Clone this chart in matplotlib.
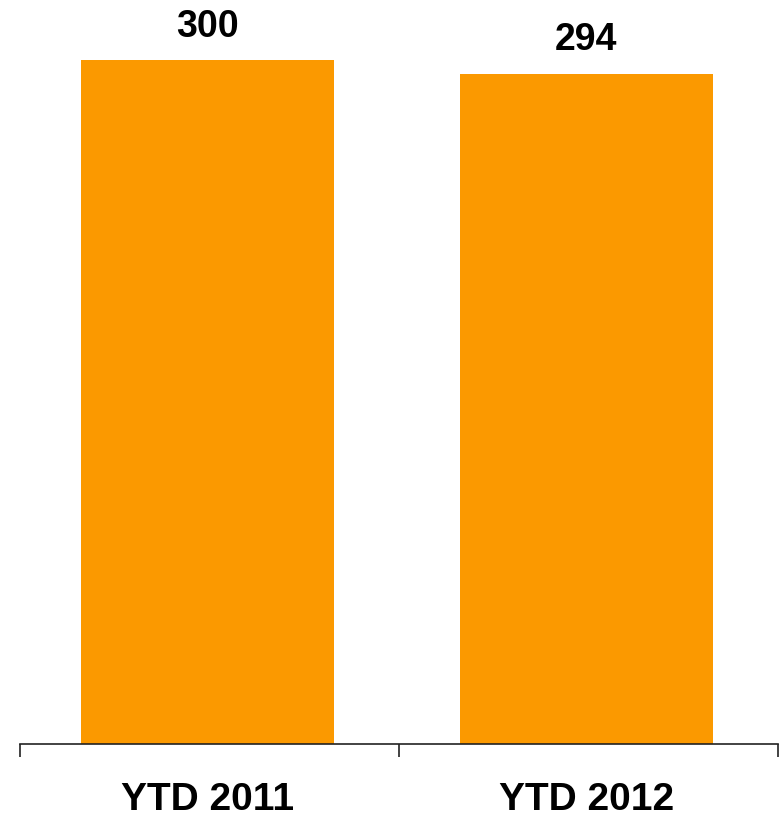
import matplotlib
matplotlib.use("Agg")
import matplotlib.pyplot as plt

categories = ["YTD 2011", "YTD 2012"]
values = [300, 294]
value_labels = ["300", "294"]

W, H = 779, 816
fig = plt.figure(figsize=(W / 100, H / 100), dpi=100)
ax = fig.add_axes([20 / W, 72 / H, 758 / W, 729.6 / H])

x = list(range(len(categories)))
bars = ax.bar([xi - 0.006 for xi in x], values, width=0.667, color="#FB9900", edgecolor="none")
ax.set_xlim(-0.5, 1.5)
ax.set_ylim(0, 320)

for b, lab in zip(bars, value_labels):
    ax.annotate(lab, (b.get_x() + b.get_width() / 2, b.get_height()),
                xytext=(0, 11), textcoords="offset points",
                ha="center", va="bottom", fontsize=27, fontweight="bold",
                family="Liberation Sans", color="black")

for s in ["top", "right", "left"]:
    ax.spines[s].set_visible(False)
ax.spines["bottom"].set_color("#222222")
ax.spines["bottom"].set_linewidth(1.2)
ax.set_yticks([])

ax.set_xticks([-0.5, 0.5, 1.5])
ax.set_xticklabels([])
ax.tick_params(axis="x", which="major", direction="out", length=9, width=1.2, color="#222222")
ax.set_xticks([xi - 0.006 for xi in x], minor=True)
ax.set_xticklabels(categories, minor=True, fontsize=28, fontweight="bold",
                   family="Liberation Sans")
ax.tick_params(axis="x", which="minor", length=0, pad=27)

fig.savefig("out.png", dpi=100)
